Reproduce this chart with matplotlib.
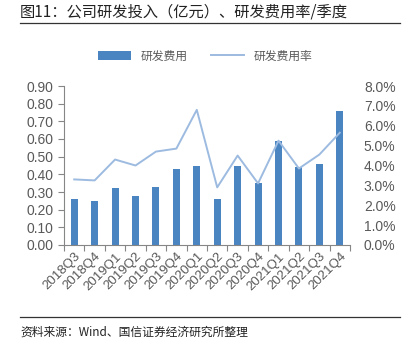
import matplotlib
matplotlib.use("Agg")
import matplotlib.pyplot as plt
import numpy as np
from matplotlib.ticker import FuncFormatter

plt.rcParams['font.family'] = ['Noto Sans CJK SC', 'DejaVu Sans']

# 数据
quarters = ['2018Q3', '2018Q4', '2019Q1', '2019Q2', '2019Q3', '2019Q4', '2020Q1',
            '2020Q2', '2020Q3', '2020Q4', '2021Q1', '2021Q2', '2021Q3', '2021Q4']
rd_cost = [0.26, 0.25, 0.32, 0.28, 0.33, 0.43, 0.45,
           0.26, 0.45, 0.35, 0.59, 0.44, 0.46, 0.76]
rd_rate = [3.3, 3.25, 4.3, 4.0, 4.7, 4.85, 6.8,
           2.9, 4.5, 3.1, 5.25, 3.85, 4.55, 5.65]

bar_color = '#4a84c1'
line_color = '#9dbbe0'
grey = '#595959'
num_font = ['Liberation Sans', 'DejaVu Sans']

fig = plt.figure(figsize=(4.07, 3.51), dpi=100)
ax = fig.add_axes([64 / 407, 1 - 245 / 351, (350 - 64) / 407, (245 - 86) / 351])
ax2 = ax.twinx()

x = np.arange(len(quarters))
ax.bar(x, rd_cost, width=0.34, color=bar_color, label='研发费用', zorder=2)
ax2.plot(x, rd_rate, color=line_color, lw=1.4, label='研发费用率', zorder=3)

ax.set_xlim(-0.5, len(quarters) - 0.5)
ax.set_ylim(0, 0.9)
ax.set_yticks(np.arange(0, 0.91, 0.1))
ax.yaxis.set_major_formatter(FuncFormatter(lambda v, p: '%.2f' % v))
ax2.set_ylim(0, 8)
ax2.set_yticks(np.arange(0, 8.1, 1))
ax2.yaxis.set_major_formatter(FuncFormatter(lambda v, p: '%.1f%%' % v))

# 刻度线在类别之间，标签在类别中心
ax.set_xticks(np.arange(-0.5, len(quarters), 1))
ax.set_xticklabels([])
ax.set_xticks(x, minor=True)
ax.set_xticklabels(quarters, minor=True, rotation=45, ha='right', rotation_mode='anchor',
                   fontsize=9.5, color=grey, family=num_font)
ax.tick_params(axis='x', which='minor', length=0, pad=4)
ax.tick_params(axis='x', which='major', length=4, color='#868686', direction='out')

for a in (ax, ax2):
    for s in a.spines.values():
        s.set_visible(False)
ax.spines['left'].set_visible(True)
ax.spines['bottom'].set_visible(True)
ax.spines['left'].set_color('#868686')
ax.spines['bottom'].set_color('#868686')

ax.tick_params(axis='y', length=4, color='#868686', labelsize=10, labelcolor=grey)
ax2.tick_params(axis='y', length=0, labelsize=10, labelcolor=grey, pad=10)
for lab in ax.get_yticklabels() + ax2.get_yticklabels():
    lab.set_family(num_font)

h1, l1 = ax.get_legend_handles_labels()
h2, l2 = ax2.get_legend_handles_labels()
fig.legend(h1 + h2, l1 + l2, loc='center', bbox_to_anchor=(205 / 407, 1 - 56 / 351),
           ncol=2, frameon=False, fontsize=8.5, handlelength=2.8, columnspacing=2.0,
           labelcolor=grey)

# 标题和来源
fig.text(20 / 407, 1 - 12 / 351, '图11：公司研发投入（亿元）、研发费用率/季度',
         fontsize=11, color='#222222', va='center')
fig.add_artist(plt.Line2D([20 / 407, 400 / 407], [1 - 23 / 351, 1 - 23 / 351],
                          color='#333333', lw=0.9))
fig.add_artist(plt.Line2D([20 / 407, 400 / 407], [1 - 317 / 351, 1 - 317 / 351],
                          color='#333333', lw=0.9))
fig.text(20 / 407, 1 - 332 / 351, '资料来源：Wind、国信证券经济研究所整理',
         fontsize=8.5, color='#222222', va='center')

fig.savefig('out.png', dpi=100)
